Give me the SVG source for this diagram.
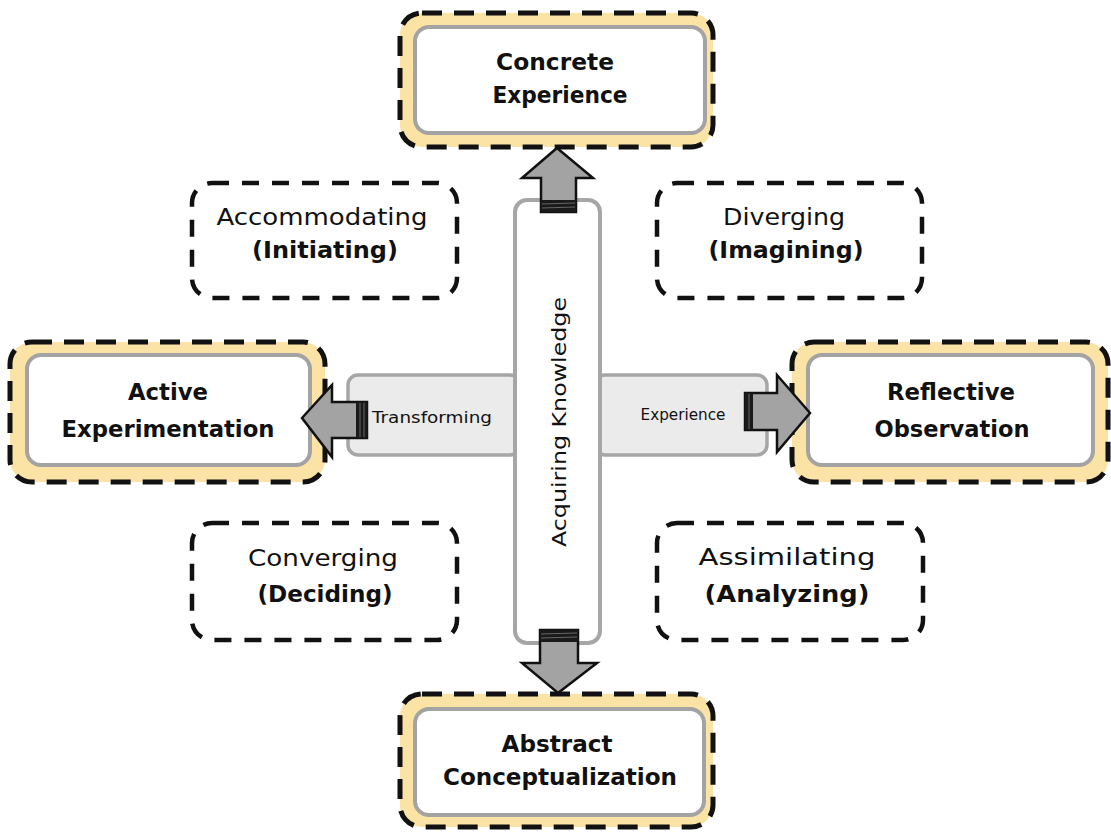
<svg xmlns="http://www.w3.org/2000/svg" width="1111" height="832" viewBox="0 0 1111 832">
<style>
.outer{fill:#FBE3A6;stroke:#111;stroke-width:5;stroke-dasharray:20 12;stroke-linecap:butt}
.inner{fill:#fff;stroke:#A3A3A3;stroke-width:4}
.dash{fill:none;stroke:#111;stroke-width:4.5;stroke-dasharray:17 13}
.panel{fill:#EBEBEB;stroke:#A6A6A6;stroke-width:3.5}
.col{fill:#fff;stroke:#A6A6A6;stroke-width:4}
.arrow{fill:#A3A3A3;stroke:#111;stroke-width:2.5;stroke-linejoin:miter}
.band{fill:#1a1a1a}
text{font-family:"DejaVu Sans","Liberation Sans",sans-serif;fill:#111;text-anchor:middle}
.big{font-size:23.5px;font-weight:bold}
.reg{font-size:23.5px}
.sm{font-size:15px}
</style>
<rect width="1111" height="832" fill="#fff"/>

<g id="panel-transforming">
<rect class="panel" x="348" y="375" width="172" height="80" rx="10"/>
<text class="sm" x="432" y="423" textLength="120" lengthAdjust="spacingAndGlyphs">Transforming</text>
</g>
<g id="panel-experience">
<rect class="panel" x="595" y="375" width="172" height="80" rx="10"/>
<text class="sm" x="683" y="420" font-size="14" textLength="85" lengthAdjust="spacingAndGlyphs">Experience</text>
</g>

<g id="acquiring-knowledge">
<rect class="col" x="515" y="200" width="85" height="443" rx="12"/>
<text x="566" y="422" font-size="19.5" transform="rotate(-90 566 422)" textLength="250" lengthAdjust="spacingAndGlyphs">Acquiring Knowledge</text>
</g>

<g id="concrete-experience">
<rect class="outer" x="400" y="13" width="313" height="134" rx="22"/>
<rect class="inner" x="415" y="27" width="290" height="106" rx="14"/>
<text class="big" x="555" y="70" textLength="118" lengthAdjust="spacingAndGlyphs">Concrete</text>
<text class="big" x="560" y="103" textLength="135" lengthAdjust="spacingAndGlyphs">Experience</text>
</g>

<g id="active-experimentation">
<rect class="outer" x="10" y="342" width="315" height="140" rx="22"/>
<rect class="inner" x="27" y="355" width="283" height="110" rx="14"/>
<text class="big" x="168" y="400" textLength="80" lengthAdjust="spacingAndGlyphs">Active</text>
<text class="big" x="168" y="437" textLength="213" lengthAdjust="spacingAndGlyphs">Experimentation</text>
</g>

<g id="reflective-observation">
<rect class="outer" x="792" y="342" width="316" height="140" rx="22"/>
<rect class="inner" x="808" y="355" width="285" height="110" rx="14"/>
<text class="big" x="951" y="400" textLength="128" lengthAdjust="spacingAndGlyphs">Reflective</text>
<text class="big" x="952" y="437" textLength="155" lengthAdjust="spacingAndGlyphs">Observation</text>
</g>

<g id="abstract-conceptualization">
<rect class="outer" x="400" y="694" width="313" height="133" rx="22"/>
<rect class="inner" x="415" y="709" width="289" height="106" rx="14"/>
<text class="big" x="557" y="752" textLength="111" lengthAdjust="spacingAndGlyphs">Abstract</text>
<text class="big" x="560" y="785" textLength="234" lengthAdjust="spacingAndGlyphs">Conceptualization</text>
</g>

<g id="accommodating">
<rect class="dash" x="192" y="183" width="265" height="115" rx="20"/>
<text class="reg" x="322" y="225" textLength="211" lengthAdjust="spacingAndGlyphs">Accommodating</text>
<text class="big" x="325" y="258" textLength="146" lengthAdjust="spacingAndGlyphs">(Initiating)</text>
</g>

<g id="diverging">
<rect class="dash" x="657" y="183" width="265" height="115" rx="20"/>
<text class="reg" x="784" y="225" textLength="122" lengthAdjust="spacingAndGlyphs">Diverging</text>
<text class="big" x="786" y="258" textLength="155" lengthAdjust="spacingAndGlyphs">(Imagining)</text>
</g>

<g id="converging">
<rect class="dash" x="192" y="523" width="265" height="117" rx="20"/>
<text class="reg" x="323" y="566" textLength="150" lengthAdjust="spacingAndGlyphs">Converging</text>
<text class="big" x="325" y="602" textLength="135" lengthAdjust="spacingAndGlyphs">(Deciding)</text>
</g>

<g id="assimilating">
<rect class="dash" x="657" y="523" width="266" height="117" rx="20"/>
<text class="reg" x="787" y="565" textLength="177" lengthAdjust="spacingAndGlyphs">Assimilating</text>
<text class="big" x="787" y="602" textLength="165" lengthAdjust="spacingAndGlyphs">(Analyzing)</text>
</g>

<g id="connectors">
<path class="arrow" d="M557,148 L593,178 L576,178 L576,212 L541,212 L541,178 L522,178 Z"/>
<rect class="band" x="541" y="200" width="35" height="12"/>
<path d="M542,204 L575,203 M542,208 L575,207" stroke="#666" stroke-width="1"/>

<path class="arrow" d="M558,693 L597,663 L578,663 L578,630 L540,630 L540,663 L522,663 Z"/>
<rect class="band" x="540" y="630" width="38" height="12"/>
<path d="M541,634 L577,633 M541,638 L577,637" stroke="#666" stroke-width="1"/>

<path class="arrow" d="M302,418 L332,385 L332,402 L367,402 L367,438 L332,438 L332,457 Z"/>
<rect class="band" x="356" y="402" width="11" height="36"/>
<path d="M360,403 L360,437 M364,403 L364,437" stroke="#666" stroke-width="1"/>

<path class="arrow" d="M810,413 L777,375 L777,393 L745,393 L745,430 L777,430 L777,452 Z"/>
<rect class="band" x="745" y="393" width="8" height="37"/>
<path d="M749,394 L749,429" stroke="#666" stroke-width="1"/>
</g>
</svg>
